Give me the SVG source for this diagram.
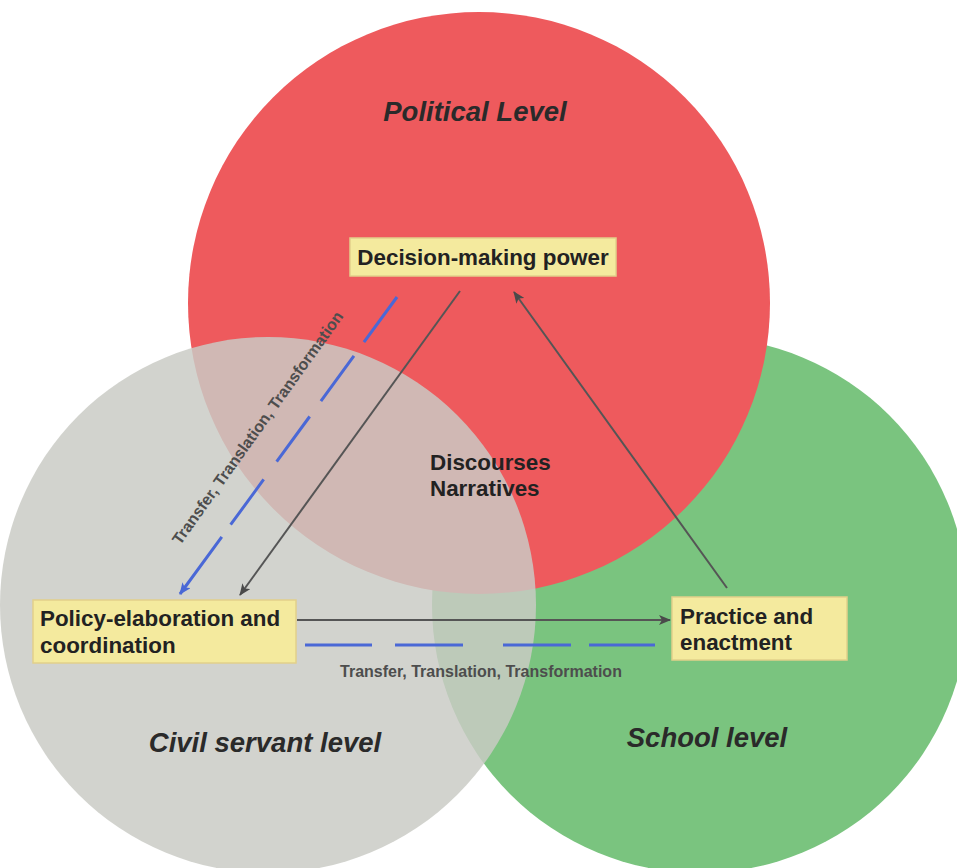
<svg xmlns="http://www.w3.org/2000/svg" width="957" height="868" viewBox="0 0 957 868">
<defs>
<marker id="ah" viewBox="0 0 12 10" refX="11" refY="5" markerWidth="12" markerHeight="10" markerUnits="userSpaceOnUse" orient="auto">
<path d="M0,0 L12,5 L0,10 L3,5 z" fill="#4a4a4a"/>
</marker>
<marker id="ahb" viewBox="0 0 12 10" refX="11" refY="5" markerWidth="12" markerHeight="10" markerUnits="userSpaceOnUse" orient="auto">
<path d="M0,0 L12,5 L0,10 L3,5 z" fill="#4a68d6"/>
</marker>
</defs>
<style>
.lvl{font-family:"Liberation Sans",Arial,sans-serif;font-weight:bold;font-style:italic;font-size:27.5px;fill:#2a2a2a}
.box{fill:#f4ea9e;stroke:#e2d08a;stroke-width:1.5}
.bt{font-family:"Liberation Sans",Arial,sans-serif;font-weight:bold;font-size:22.4px;fill:#222}
.sm{font-family:"Liberation Sans",Arial,sans-serif;font-weight:bold;font-size:16px;fill:#4d4d4d}
.solid{stroke:#555;stroke-width:2;fill:none}
.dash{stroke:#4a68d6;stroke-width:3;fill:none}
</style>
<rect width="957" height="868" fill="#ffffff"/>
<g id="school-level">
<circle cx="700" cy="605" r="268" fill="#7ac47f"/>
<text class="lvl" x="707" y="747" text-anchor="middle">School level</text>
</g>
<g id="political-level">
<circle cx="479" cy="303" r="291" fill="#ee5a5d"/>
<text class="lvl" x="475" y="121" text-anchor="middle">Political Level</text>
</g>
<g id="civil-servant-level">
<circle cx="268" cy="605" r="268" fill="#c9cac5" fill-opacity="0.84"/>
<text class="lvl" x="265" y="752" text-anchor="middle">Civil servant level</text>
</g>
<g id="discourses">
<text class="bt" x="430" y="470" fill="#111">Discourses</text>
<text class="bt" x="430" y="496" fill="#111">Narratives</text>
</g>
<g id="connectors">
<line class="dash" x1="397" y1="297" x2="180" y2="594" stroke-dasharray="56 17 56 19 56 22 56 15 200" marker-end="url(#ahb)"/>
<line class="solid" x1="460" y1="291" x2="240" y2="595" marker-end="url(#ah)"/>
<line class="solid" x1="727" y1="588" x2="514" y2="292" marker-end="url(#ah)"/>
<line class="solid" x1="297" y1="620" x2="670" y2="620" marker-end="url(#ah)"/>
<line class="dash" x1="305" y1="645" x2="655" y2="645" stroke-dasharray="67 23 68 40 68 18 66 100"/>
<text class="sm" x="481" y="677" text-anchor="middle">Transfer, Translation, Transformation</text>
<text class="sm" transform="translate(262,431) rotate(-54.5)" x="0" y="0" text-anchor="middle">Transfer, Translation, Transformation</text>
</g>
<g id="decision-making-power">
<rect class="box" x="350" y="238" width="266" height="38"/>
<text class="bt" x="483" y="265" text-anchor="middle">Decision-making power</text>
</g>
<g id="policy-elaboration">
<rect class="box" x="33" y="600" width="263" height="63"/>
<text class="bt" x="40" y="626">Policy-elaboration and</text>
<text class="bt" x="40" y="653">coordination</text>
</g>
<g id="practice-enactment">
<rect class="box" x="672" y="597" width="175" height="63"/>
<text class="bt" x="680" y="624">Practice and</text>
<text class="bt" x="680" y="650">enactment</text>
</g>
</svg>
